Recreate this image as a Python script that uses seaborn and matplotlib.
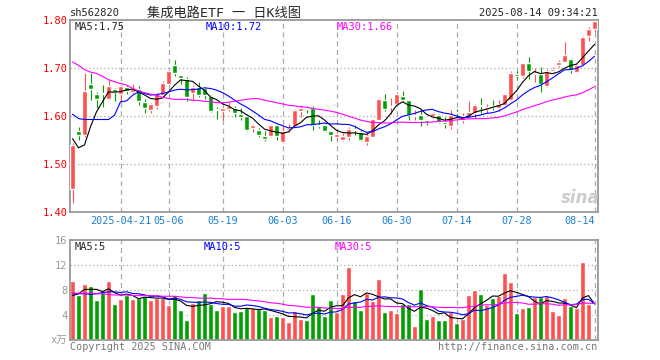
import numpy as np
import pandas as pd
import seaborn as sns
import matplotlib.pyplot as plt

# trading days shown (2025-04-09 .. 2025-08-14, exchange holidays removed)
holidays = ['2025-05-01', '2025-05-02', '2025-05-05', '2025-06-02']
dates = pd.bdate_range('2025-04-09', '2025-08-14')
dates = dates[~dates.isin(pd.to_datetime(holidays))]

tick_dates = ['2025-04-21', '2025-05-06', '2025-05-19', '2025-06-03', '2025-06-16',
              '2025-06-30', '2025-07-14', '2025-07-28', '2025-08-14']
tick_labels = ['2025-04-21', '05-06', '05-19', '06-03', '06-16',
               '06-30', '07-14', '07-28', '08-14']

opens = [1.448, 1.569, 1.560, 1.667, 1.646, 1.649, 1.635, 1.656, 1.646, 1.661,
         1.651, 1.656, 1.630, 1.612, 1.621, 1.644, 1.667, 1.706, 1.685, 1.678,
         1.649, 1.660, 1.658, 1.642, 1.614, 1.611, 1.614, 1.616, 1.604, 1.600,
         1.576, 1.572, 1.558, 1.558, 1.581, 1.547, 1.571, 1.579, 1.611, 1.617,
         1.618, 1.580, 1.581, 1.569, 1.556, 1.551, 1.557, 1.573, 1.567, 1.547,
         1.557, 1.593, 1.633, 1.620, 1.625, 1.642, 1.633, 1.601, 1.602, 1.593,
         1.600, 1.602, 1.588, 1.579, 1.608, 1.593, 1.599, 1.606, 1.623, 1.615,
         1.622, 1.618, 1.623, 1.634, 1.688, 1.683, 1.710, 1.688, 1.687, 1.662,
         1.695, 1.707, 1.714, 1.719, 1.692, 1.707, 1.768, 1.782]
highs = [1.545, 1.578, 1.689, 1.691, 1.651, 1.665, 1.676, 1.658, 1.665, 1.664,
         1.667, 1.662, 1.635, 1.628, 1.649, 1.674, 1.696, 1.718, 1.686, 1.681,
         1.665, 1.671, 1.661, 1.644, 1.620, 1.621, 1.630, 1.621, 1.618, 1.604,
         1.583, 1.576, 1.569, 1.583, 1.583, 1.579, 1.583, 1.614, 1.623, 1.621,
         1.621, 1.593, 1.583, 1.569, 1.567, 1.565, 1.578, 1.581, 1.571, 1.564,
         1.597, 1.637, 1.646, 1.637, 1.651, 1.653, 1.633, 1.613, 1.614, 1.593,
         1.609, 1.604, 1.599, 1.613, 1.614, 1.606, 1.632, 1.625, 1.637, 1.625,
         1.634, 1.634, 1.648, 1.694, 1.694, 1.710, 1.724, 1.700, 1.703, 1.698,
         1.703, 1.717, 1.754, 1.722, 1.708, 1.768, 1.785, 1.801]
lows = [1.418, 1.550, 1.556, 1.633, 1.618, 1.620, 1.633, 1.632, 1.632, 1.646,
        1.646, 1.623, 1.607, 1.607, 1.614, 1.639, 1.665, 1.683, 1.667, 1.632,
        1.633, 1.639, 1.635, 1.609, 1.595, 1.593, 1.611, 1.599, 1.593, 1.569,
        1.567, 1.556, 1.549, 1.556, 1.551, 1.545, 1.567, 1.578, 1.599, 1.607,
        1.571, 1.576, 1.567, 1.549, 1.551, 1.549, 1.550, 1.560, 1.549, 1.540,
        1.556, 1.592, 1.611, 1.604, 1.623, 1.630, 1.593, 1.592, 1.579, 1.581,
        1.597, 1.585, 1.576, 1.574, 1.599, 1.585, 1.596, 1.596, 1.606, 1.606,
        1.613, 1.610, 1.622, 1.632, 1.678, 1.680, 1.678, 1.672, 1.651, 1.660,
        1.693, 1.703, 1.712, 1.689, 1.690, 1.705, 1.757, 1.776]
closes = [1.540, 1.560, 1.653, 1.656, 1.636, 1.646, 1.662, 1.650, 1.662, 1.653,
          1.656, 1.632, 1.618, 1.625, 1.646, 1.669, 1.694, 1.689, 1.680, 1.639,
          1.661, 1.644, 1.644, 1.611, 1.613, 1.616, 1.622, 1.606, 1.599, 1.572,
          1.581, 1.560, 1.553, 1.581, 1.558, 1.569, 1.576, 1.612, 1.616, 1.615,
          1.581, 1.579, 1.569, 1.560, 1.563, 1.558, 1.574, 1.571, 1.550, 1.558,
          1.595, 1.635, 1.614, 1.621, 1.646, 1.633, 1.602, 1.603, 1.593, 1.588,
          1.606, 1.588, 1.583, 1.602, 1.606, 1.600, 1.608, 1.623, 1.621, 1.620,
          1.620, 1.625, 1.646, 1.689, 1.683, 1.710, 1.694, 1.690, 1.667, 1.694,
          1.698, 1.713, 1.728, 1.696, 1.707, 1.766, 1.782, 1.798]
volumes = [9.43, 7.17, 8.89, 8.57, 6.47, 7.65, 9.38, 5.82, 6.63, 7.22,
           6.63, 6.73, 7.00, 6.36, 6.73, 6.73, 5.66, 7.22, 4.85, 3.23,
           5.93, 6.47, 7.60, 5.82, 4.85, 5.50, 5.50, 4.42, 4.69, 5.23,
           5.06, 4.96, 4.85, 3.61, 3.88, 3.61, 2.96, 4.58, 3.29, 3.23,
           7.33, 5.39, 3.77, 6.47, 4.42, 7.44, 11.64, 6.30, 4.74, 7.60,
           6.25, 9.70, 4.53, 4.85, 4.26, 5.77, 5.82, 2.26, 8.24, 3.39,
           3.88, 3.13, 3.13, 4.53, 2.75, 3.34, 7.27, 8.08, 7.44, 5.60,
           6.79, 7.11, 10.67, 9.27, 4.26, 5.17, 5.33, 6.95, 6.95, 7.11,
           4.58, 4.04, 6.79, 5.39, 5.06, 12.45, 5.82, 0.16]

# moving-average values at the left edge (history before the window)
ma5_head = [1.553, 1.534, 1.540, 1.578]
ma10_head = [1.604, 1.595, 1.593, 1.593, 1.593, 1.593, 1.593, 1.602, 1.630]
ma30_head = [1.713, 1.706, 1.697, 1.692, 1.689, 1.683, 1.676, 1.672, 1.668, 1.665,
             1.658, 1.653, 1.649, 1.646, 1.644, 1.639, 1.637, 1.635, 1.635, 1.635,
             1.633, 1.633, 1.631, 1.630, 1.628, 1.628, 1.629, 1.631, 1.633]
vma5_head = [7.1, 7.4, 8.1, 8.1]
vma10_head = [7.4, 7.4, 7.4, 7.3, 7.4, 7.6, 7.7, 7.7, 7.6]
vma30_head = [7.5, 7.5, 7.5, 7.5, 7.4, 7.4, 7.3, 7.2, 7.2, 7.2,
              7.1, 7.1, 7.1, 7.1, 7.1, 7.0, 7.0, 7.0, 6.9, 6.8,
              6.8, 6.7, 6.7, 6.7, 6.6, 6.6, 6.5, 6.5, 6.5]

df = pd.DataFrame({'date': dates, 'open': opens, 'high': highs, 'low': lows,
                   'close': closes, 'vol': volumes})
df['i'] = np.arange(len(df))


def moving(series, n, head):
    m = series.rolling(n).mean().to_numpy()
    m[:n - 1] = head
    return m


df['ma5'] = moving(df['close'], 5, ma5_head)
df['ma10'] = moving(df['close'], 10, ma10_head)
df['ma30'] = moving(df['close'], 30, ma30_head)
df['vma5'] = moving(df['vol'], 5, vma5_head)
df['vma10'] = moving(df['vol'], 10, vma10_head)
df['vma30'] = moving(df['vol'], 30, vma30_head)

sns.set_style('white')
plt.rcParams['font.family'] = ['DejaVu Sans Mono', 'Noto Sans CJK SC']

RED, GREEN = '#ff5050', '#00a000'
GRID = '#aaaaaa'
up = df['close'] >= df['open']
colors = np.where(up, RED, GREEN)

W, H = 660, 360
fig = plt.figure(figsize=(6.6, 3.6), dpi=100)
ax1 = fig.add_axes([70 / W, (H - 212) / H, 527.5 / W, 191.7 / H])
ax2 = fig.add_axes([70 / W, 20 / H, 527.5 / W, 100 / H])

tick_pos = [df.index[df['date'] == pd.Timestamp(d)][0] for d in tick_dates]

for ax in (ax1, ax2):
    ax.set_xlim(-0.42, 87.5)
    for s in ax.spines.values():
        s.set_color('#999999')
        s.set_linewidth(1.3)
    for p in tick_pos:
        ax.axvline(p, color=GRID, lw=0.9, ls=(0, (4, 3)), zorder=0)
    ax.tick_params(length=0)

# price panel
ax1.set_ylim(1.40, 1.80)
for g in [1.5, 1.6, 1.7]:
    ax1.axhline(g, color=GRID, lw=0.9, ls=(0, (1, 2)), zorder=0)
ax1.vlines(df['i'], df['low'], df['high'], colors=colors, lw=0.8, zorder=2)
body = (df['close'] - df['open']).abs().clip(lower=0.0015)
ax1.bar(df['i'], body, bottom=df[['open', 'close']].min(axis=1), width=0.8,
        color=colors, zorder=3)
sns.lineplot(x=df['i'], y=df['ma5'], ax=ax1, color='black', lw=0.8, zorder=4)
sns.lineplot(x=df['i'], y=df['ma10'], ax=ax1, color='#0000ff', lw=0.8, zorder=4)
sns.lineplot(x=df['i'], y=df['ma30'], ax=ax1, color='#ff00ff', lw=0.8, zorder=4)
ax1.set_yticks([1.4, 1.5, 1.6, 1.7, 1.8])
ax1.set_yticklabels(['%.2f' % v for v in [1.4, 1.5, 1.6, 1.7, 1.8]], color='red', fontsize=7.5)
ax1.set_xticks(tick_pos)
ax1.set_xticklabels(tick_labels, color='#1a7fd0', fontsize=7.3)
ax1.get_xticklabels()[-1].set_ha('right')
ax1.tick_params(axis='y', pad=2)
ax1.tick_params(axis='x', pad=3)
ax1.set_xlabel('')
ax1.set_ylabel('')

# volume panel
ax2.set_ylim(0, 16)
for g in [4, 8, 12]:
    ax2.axhline(g, color=GRID, lw=0.9, ls=(0, (1, 2)), zorder=0)
ax2.bar(df['i'], df['vol'], width=0.8, color=colors, zorder=2)
sns.lineplot(x=df['i'], y=df['vma5'], ax=ax2, color='black', lw=0.8, zorder=4)
sns.lineplot(x=df['i'], y=df['vma10'], ax=ax2, color='#0000ff', lw=0.8, zorder=4)
sns.lineplot(x=df['i'], y=df['vma30'], ax=ax2, color='#ff00ff', lw=0.8, zorder=4)
ax2.set_yticks([0, 4, 8, 12, 16])
ax2.set_yticklabels(['x万', '4', '8', '12', '16'], color='#999999', fontsize=7.5)
ax2.set_xticks([])
ax2.tick_params(axis='y', pad=2)
ax2.set_xlabel('')
ax2.set_ylabel('')


def px(x, y):
    return x / W, 1 - y / H


last = df.iloc[-1]
fig.text(*px(70, 13), 'sh562820', fontsize=7.5, va='center')
fig.text(*px(224, 13), '集成电路ETF 一 日K线图', fontsize=9.5, ha='center', va='center')
fig.text(*px(598, 13), '2025-08-14 09:34:21', fontsize=7.5, ha='right', va='center')
fig.text(*px(75, 27), 'MA5:%.2f' % last['ma5'], fontsize=7.5, va='center')
fig.text(*px(206, 27), 'MA10:%.2f' % last['ma10'], fontsize=7.5, va='center', color='#0000ff')
fig.text(*px(337, 27), 'MA30:%.2f' % last['ma30'], fontsize=7.5, va='center', color='#ff00ff')
fig.text(*px(75, 247), 'MA5:%d' % int(last['vma5']), fontsize=7.5, va='center')
fig.text(*px(204, 247), 'MA10:%d' % int(last['vma10']), fontsize=7.5, va='center', color='#0000ff')
fig.text(*px(335, 247), 'MA30:%d' % int(last['vma30']), fontsize=7.5, va='center', color='#ff00ff')
fig.text(*px(70, 347), 'Copyright 2025 SINA.COM', fontsize=7.3, va='center', color='#777777')
fig.text(*px(597, 347), 'http://finance.sina.com.cn', fontsize=7.3, ha='right', va='center',
         color='#777777')
fig.text(*px(580, 198), 'sina', fontsize=12, ha='center', va='center', style='italic',
         weight='bold', color='#cccccc', family='DejaVu Sans')

fig.savefig('out.png', dpi=100)
